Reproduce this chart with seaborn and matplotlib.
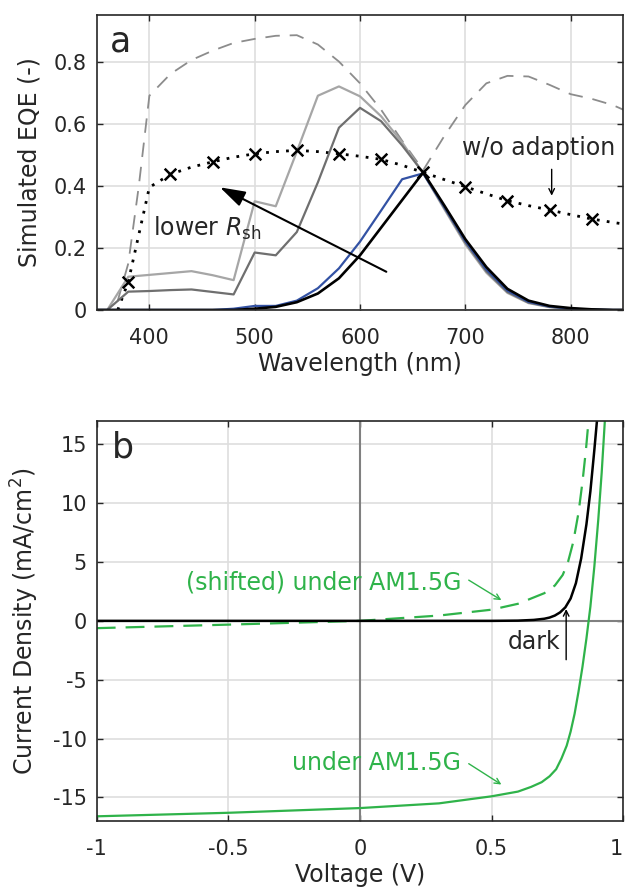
import matplotlib
matplotlib.use("Agg")
import matplotlib.pyplot as plt
import seaborn as sns

# ---- panel a: simulated EQE ----
lam = [350, 360, 380, 400, 420, 440, 460, 480, 500, 520, 540, 560, 580, 600,
       620, 640, 660, 680, 700, 720, 740, 760, 780, 800, 820, 840, 850]
eqe_light_gray = [0, 0, 0.107, 0.113, 0.119, 0.125, 0.112, 0.096, 0.35, 0.334, 0.51, 0.69, 0.72, 0.688,
                  0.624, 0.54, 0.44, 0.325, 0.212, 0.12, 0.055, 0.022, 0.009, 0.003, 0.001, 0, 0]
eqe_dark_gray = [0, 0, 0.059, 0.061, 0.064, 0.066, 0.058, 0.05, 0.185, 0.176, 0.251, 0.411, 0.587, 0.651,
                 0.608, 0.53, 0.442, 0.33, 0.218, 0.125, 0.058, 0.024, 0.01, 0.004, 0.001, 0, 0]
eqe_blue = [0, 0, 0, 0, 0, 0, 0, 0.004, 0.013, 0.013, 0.03, 0.07, 0.134, 0.22,
            0.32, 0.421, 0.44, 0.332, 0.222, 0.13, 0.062, 0.026, 0.011, 0.004, 0.001, 0, 0]
eqe_black = [0, 0, 0, 0, 0, 0, 0, 0, 0.004, 0.01, 0.025, 0.053, 0.102, 0.176,
             0.265, 0.354, 0.443, 0.337, 0.228, 0.138, 0.068, 0.03, 0.013, 0.006, 0.002, 0, 0]

lam_dash = [350, 360, 370, 380, 390, 400, 420, 440, 460, 480, 500, 520, 540, 560, 580, 600,
            620, 640, 660, 680, 700, 720, 740, 760, 780, 800, 820, 840, 850]
eqe_dash = [0, 0, 0.03, 0.15, 0.40, 0.69, 0.76, 0.805, 0.835, 0.86, 0.873, 0.883, 0.885, 0.855, 0.80, 0.73,
            0.645, 0.545, 0.45, 0.56, 0.66, 0.73, 0.754, 0.752, 0.725, 0.695, 0.68, 0.66, 0.645]

lam_dot = [370, 380, 400, 420, 440, 460, 480, 500, 520, 540, 560, 580, 600, 620, 640,
           660, 680, 700, 720, 740, 760, 780, 800, 820, 840, 850]
eqe_dot = [0, 0.091, 0.395, 0.437, 0.46, 0.477, 0.492, 0.503, 0.51, 0.514, 0.51, 0.503, 0.495, 0.485, 0.466,
           0.443, 0.42, 0.397, 0.374, 0.352, 0.336, 0.322, 0.307, 0.293, 0.282, 0.277]
lam_marks = [380, 420, 460, 500, 540, 580, 620, 660, 700, 740, 780, 820]
eqe_marks = [0.091, 0.437, 0.477, 0.503, 0.514, 0.503, 0.485, 0.443, 0.397, 0.352, 0.322, 0.293]

# ---- panel b: J-V curves ----
v_light = [-1.0, -0.5, 0.0, 0.3, 0.5, 0.6, 0.65, 0.69, 0.72, 0.745, 0.765, 0.785, 0.8, 0.815,
           0.83, 0.845, 0.86, 0.875, 0.89, 0.905, 0.918, 0.93]
j_light = [-16.6, -16.3, -15.9, -15.5, -14.9, -14.5, -14.1, -13.7, -13.2, -12.6, -11.7, -10.6, -9.4, -7.9,
           -6.0, -3.9, -1.5, 1.2, 4.6, 8.6, 12.6, 17.0]
v_shift = [-1.0, -0.5, 0.0, 0.3, 0.5, 0.6, 0.7, 0.74, 0.77, 0.79, 0.81, 0.83, 0.845, 0.858, 0.868]
j_shift = [-0.62, -0.32, 0.0, 0.45, 0.95, 1.45, 2.35, 3.0, 3.9, 5.0, 6.7, 9.2, 11.8, 14.5, 17.0]
v_dark = [-1.0, 0.0, 0.5, 0.6, 0.66, 0.7, 0.72, 0.74, 0.76, 0.78, 0.8, 0.82, 0.84, 0.86, 0.875, 0.89, 0.90]
j_dark = [0, 0, 0, 0.02, 0.08, 0.18, 0.28, 0.45, 0.72, 1.15, 1.9, 3.2, 5.3, 8.2, 11.0, 14.5, 17.0]

green = '#2fb34a'
blue = '#3352a4'

sns.set_style('whitegrid', {'grid.color': '#dedede', 'axes.edgecolor': '#262626',
                            'xtick.direction': 'in', 'ytick.direction': 'in'})
plt.rcParams['font.family'] = ['DejaVu Sans']
plt.rcParams['mathtext.fontset'] = 'dejavusans'
plt.rcParams['axes.unicode_minus'] = False

fig = plt.figure(figsize=(6.28, 8.93), dpi=100)
ax1 = fig.add_axes([0.154, 0.6529, 0.8385, 0.3303])
ax2 = fig.add_axes([0.154, 0.0806, 0.8385, 0.4483])

# panel a
sns.lineplot(x=lam_dash, y=eqe_dash, ax=ax1, color='#8c8c8c', lw=1.3, linestyle=(0, (8, 5.5)))
sns.lineplot(x=lam_dot, y=eqe_dot, ax=ax1, color='k', lw=2.0, linestyle=(0, (1, 2.6)))
sns.scatterplot(x=lam_marks, y=eqe_marks, ax=ax1, marker='x', color='k', s=70, linewidth=1.8, zorder=4)
sns.lineplot(x=lam, y=eqe_light_gray, ax=ax1, color='#a6a6a6', lw=1.6)
sns.lineplot(x=lam, y=eqe_dark_gray, ax=ax1, color='#6f6f6f', lw=1.6)
sns.lineplot(x=lam, y=eqe_blue, ax=ax1, color=blue, lw=1.6)
sns.lineplot(x=lam, y=eqe_black, ax=ax1, color='k', lw=1.9)

ax1.annotate('', xy=(467, 0.395), xytext=(625, 0.123),
             arrowprops=dict(arrowstyle='-|>,head_length=0.7,head_width=0.22', color='k', lw=1.5,
                             mutation_scale=22, shrinkA=0, shrinkB=0))
ax1.annotate('', xy=(782, 0.368), xytext=(782, 0.453),
             arrowprops=dict(arrowstyle='->', color='k', lw=1.0, mutation_scale=10, shrinkA=0, shrinkB=0))
ax1.text(403, 0.238, r'lower $R_{\mathrm{sh}}$', fontsize=17, va='baseline', ha='left')
ax1.text(770, 0.523, 'w/o adaption', fontsize=17, va='center', ha='center')
ax1.text(0.025, 0.876, 'a', fontsize=25, transform=ax1.transAxes, va='baseline')

ax1.set_xlim(350, 850)
ax1.set_ylim(0, 0.95)
ax1.set_xticks([400, 500, 600, 700, 800])
ax1.set_yticks([0, 0.2, 0.4, 0.6, 0.8])
ax1.set_yticklabels(['0', '0.2', '0.4', '0.6', '0.8'])
ax1.set_xlabel('Wavelength (nm)', fontsize=17)
ax1.set_ylabel('Simulated EQE (-)', fontsize=17)
ax1.xaxis.set_label_coords(0.5, -0.142)

# panel b
ax2.axhline(0, color='#808080', lw=1.5, zorder=1.5)
ax2.axvline(0, color='#808080', lw=1.5, zorder=1.5)
sns.lineplot(x=v_shift, y=j_shift, ax=ax2, color=green, lw=1.6, linestyle=(0, (8.5, 4.5)))
sns.lineplot(x=v_light, y=j_light, ax=ax2, color=green, lw=1.6)
sns.lineplot(x=v_dark, y=j_dark, ax=ax2, color='k', lw=1.8)

ax2.text(0.384, 3.3, '(shifted) under AM1.5G', color=green, fontsize=17, ha='right', va='center')
ax2.annotate('', xy=(0.537, 1.76), xytext=(0.413, 3.46),
             arrowprops=dict(arrowstyle='->', color=green, lw=1.0, mutation_scale=10, shrinkA=0, shrinkB=0))
ax2.text(0.384, -12.1, 'under AM1.5G', color=green, fontsize=17, ha='right', va='center')
ax2.annotate('', xy=(0.537, -13.9), xytext=(0.413, -12.13),
             arrowprops=dict(arrowstyle='->', color=green, lw=1.0, mutation_scale=10, shrinkA=0, shrinkB=0))
ax2.text(0.76, -2.35, 'dark', fontsize=17, ha='right', va='baseline')
ax2.annotate('', xy=(0.783, 1.0), xytext=(0.783, -3.3),
             arrowprops=dict(arrowstyle='->', color='k', lw=1.0, mutation_scale=10, shrinkA=0, shrinkB=0))
ax2.text(0.029, 0.907, 'b', fontsize=25, transform=ax2.transAxes, va='baseline')

ax2.set_xlim(-1, 1)
ax2.set_ylim(-17, 17)
ax2.set_xticks([-1, -0.5, 0, 0.5, 1])
ax2.set_xticklabels(['-1', '-0.5', '0', '0.5', '1'])
ax2.get_xticklabels()[-1].set_horizontalalignment('right')
ax2.set_yticks([-15, -10, -5, 0, 5, 10, 15])
ax2.set_yticklabels(['-15', '-10', '-5', '0', '5', '10', '15'])
ax2.set_xlabel('Voltage (V)', fontsize=17)
ax2.set_ylabel('Current Density (mA/cm$^2$)', fontsize=17)
ax2.xaxis.set_label_coords(0.5, -0.105)

for ax in (ax1, ax2):
    ax.grid(True, color='#dedede', lw=1.2)
    ax.set_axisbelow(True)
    for sp in ax.spines.values():
        sp.set_visible(True)
        sp.set_color('#262626')
        sp.set_linewidth(1.2)
    ax.tick_params(axis='both', which='both', direction='in', length=4, width=1.0,
                   top=True, right=True, bottom=True, left=True, labelsize=15,
                   colors='#262626')
    ax.tick_params(axis='x', pad=13)
    ax.tick_params(axis='y', pad=7)
    ax.yaxis.set_label_coords(-0.105, 0.5)

fig.savefig('out.png', dpi=100)
